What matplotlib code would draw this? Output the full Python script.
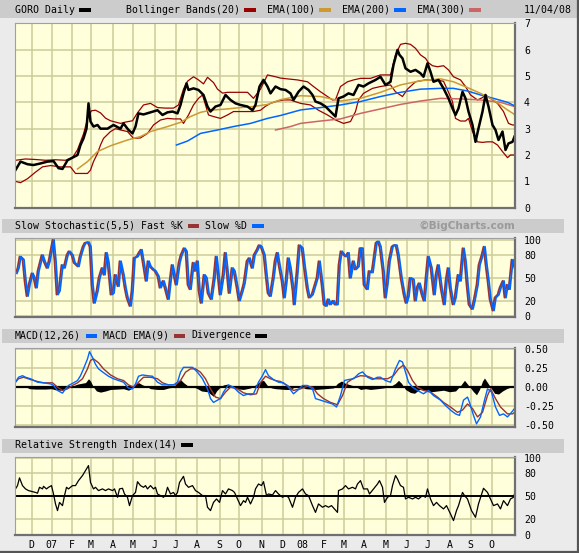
import matplotlib
matplotlib.use("Agg")
import matplotlib.pyplot as plt
from matplotlib.patches import Rectangle

# ---------------------------------------------------------------- data
# x values are trading-day index (0 = first bar on the chart, ~Nov 8 2006)
month_idx = [16, 36, 56, 75, 97, 117, 139, 160, 181, 204, 223, 246,
             267, 287, 308, 328, 348, 370, 391, 412, 434, 455, 476]
month_lbl = ["D", "07", "F", "M", "A", "M", "J", "J", "A", "S", "O", "N",
             "D", "08", "F", "M", "A", "M", "J", "J", "A", "S", "O"]

price_x = [0, 5, 12, 18, 25, 32, 38, 43, 47, 52, 57, 62, 65, 68, 71, 73, 75, 78, 82, 85,
           92, 98, 105, 108, 113, 117, 120, 123, 128, 135, 142, 147, 152, 157, 162, 165,
           168, 171, 173, 178, 183, 188, 192, 195, 200, 205, 210, 215, 220, 225, 232, 237,
           240, 244, 248, 252, 255, 260, 265, 270, 275, 278, 283, 288, 293, 297, 300, 305,
           310, 315, 320, 323, 328, 333, 338, 343, 348, 353, 360, 365, 370, 375, 378, 382,
           384, 387, 390, 395, 400, 405, 408, 412, 415, 418, 423, 428, 433, 437, 440, 443,
           447, 450, 453, 457, 460, 463, 467, 470, 473, 477, 480, 483, 487, 490, 493, 497, 499]
price_y = [1.43, 1.75, 1.65, 1.62, 1.68, 1.75, 1.77, 1.5, 1.47, 1.8, 1.9, 2.0, 2.38, 2.63, 3.0,
           3.96, 3.27, 3.08, 3.14, 3.0, 3.0, 3.14, 3.0, 3.2, 2.95, 2.82, 3.08, 3.58, 3.54, 3.62,
           3.7, 3.52, 3.62, 3.65, 3.58, 3.9, 4.34, 4.72, 4.47, 4.53, 4.47, 4.28, 3.84, 3.65,
           3.84, 3.9, 4.28, 4.09, 3.96, 3.9, 3.84, 3.7, 3.9, 4.6, 4.85, 4.6, 4.34, 4.6, 4.5,
           4.47, 4.34, 4.09, 4.4, 4.6, 4.47, 4.28, 4.03, 3.96, 3.84, 3.65, 3.46, 4.15, 4.22,
           4.34, 4.28, 4.66, 4.6, 4.72, 4.85, 4.97, 4.66, 4.78, 5.42, 5.99, 5.8, 5.67, 5.29,
           5.16, 5.23, 5.1, 4.97, 5.48, 5.16, 4.78, 4.85, 4.53, 4.15, 3.77, 3.52, 3.77, 4.4,
           4.15, 3.65, 3.14, 2.5, 3.01, 3.65, 4.28, 3.84, 3.14, 2.95, 2.57, 2.89, 2.19, 2.44,
           2.5, 2.7]

bb_up_x = [0, 10, 20, 30, 40, 50, 57, 62, 68, 73, 76, 80, 85, 90, 95, 105, 110, 117, 122, 128,
           135, 142, 150, 158, 163, 168, 172, 178, 183, 188, 192, 198, 202, 207, 212, 225, 232,
           238, 245, 252, 260, 265, 272, 282, 292, 298, 305, 312, 317, 320, 325, 332, 338, 345,
           355, 365, 375, 380, 385, 390, 395, 400, 405, 410, 413, 417, 422, 428, 433, 438, 445,
           450, 455, 462, 467, 470, 475, 482, 488, 493, 497, 499]
bb_up_y = [1.80, 1.85, 1.83, 1.80, 1.82, 1.80, 1.9, 2.2, 2.8, 3.5, 3.68, 3.7, 3.6, 3.4, 3.3,
           3.2, 3.25, 3.3, 3.6, 3.9, 3.96, 3.8, 3.78, 3.78, 3.9, 4.5, 4.8, 4.97, 4.85, 4.7, 4.95,
           4.75, 4.5, 4.35, 4.38, 4.38, 4.38, 4.15, 4.5, 5.04, 4.97, 4.92, 4.89, 4.85, 4.78, 4.6,
           4.4, 4.22, 4.09, 4.1, 4.6, 4.78, 4.85, 4.91, 4.91, 5.04, 5.04, 5.8, 6.2, 6.24, 6.2,
           6.05, 5.8, 5.67, 5.5, 5.39, 5.35, 5.39, 5.23, 4.97, 4.85, 4.6, 4.28, 4.09, 4.18, 4.28,
           4.15, 3.96, 3.65, 3.2, 3.14, 3.14]

bb_lo_x = [0, 5, 12, 20, 27, 35, 45, 55, 60, 72, 75, 78, 82, 85, 88, 95, 100, 105, 112, 118,
           125, 132, 138, 145, 152, 158, 165, 168, 173, 178, 183, 187, 190, 193, 198, 205, 212,
           218, 225, 232, 238, 245, 250, 255, 262, 268, 275, 285, 295, 303, 312, 320, 328, 335,
           340, 343, 348, 357, 365, 375, 380, 387, 392, 400, 410, 420, 428, 432, 437, 440, 445,
           450, 453, 457, 462, 467, 472, 477, 482, 487, 492, 495, 499]
bb_lo_y = [1.0, 0.95, 1.1, 1.35, 1.55, 1.6, 1.55, 1.55, 1.3, 1.3, 1.43, 1.75, 2.06, 2.38, 2.63,
           2.89, 3.0, 2.95, 2.89, 2.63, 2.65, 2.82, 3.14, 3.33, 3.39, 3.37, 3.37, 3.2, 3.52, 3.9,
           4.15, 4.28, 3.9, 3.52, 3.46, 3.39, 3.52, 3.65, 3.65, 3.65, 3.65, 3.7, 3.85, 3.96, 4.05,
           4.09, 4.09, 3.96, 3.9, 3.7, 3.52, 3.33, 3.2, 3.27, 3.65, 4.09, 4.34, 4.53, 4.6, 4.66,
           4.4, 4.22, 4.5, 4.78, 4.85, 4.85, 4.8, 4.47, 4.03, 3.39, 3.29, 3.29, 3.39, 2.89, 2.5,
           2.48, 2.5, 2.5, 2.38, 2.13, 1.9, 2.0, 2.0]

ema100_x = [62, 72, 82, 95, 112, 125, 135, 152, 165, 175, 185, 195, 212, 225, 238, 252, 265,
            285, 305, 325, 345, 365, 385, 405, 425, 438, 452, 465, 478, 492, 499]
ema100_y = [1.47, 1.75, 2.13, 2.35, 2.57, 2.7, 2.89, 3.08, 3.24, 3.46, 3.62, 3.7, 3.75, 3.8,
            3.84, 3.92, 4.1, 4.25, 4.22, 4.05, 4.15, 4.38, 4.66, 4.82, 4.89, 4.78, 4.56, 4.34,
            4.09, 3.71, 3.54]

ema200_x = [161, 172, 185, 202, 218, 235, 252, 265, 285, 305, 325, 345, 365, 385, 405, 425,
            438, 452, 465, 478, 492, 499]
ema200_y = [2.38, 2.53, 2.82, 2.95, 3.08, 3.2, 3.39, 3.5, 3.71, 3.8, 3.9, 4.03, 4.22, 4.38,
            4.5, 4.53, 4.53, 4.43, 4.28, 4.15, 4.0, 3.87]

ema300_x = [260, 275, 285, 305, 325, 345, 365, 385, 405, 425, 445, 465, 485, 499]
ema300_y = [2.95, 3.08, 3.2, 3.29, 3.37, 3.58, 3.75, 3.92, 4.05, 4.15, 4.13, 4.09, 4.0, 3.84]

stoch_x = [0, 2, 4, 7, 9, 11, 13, 16, 18, 20, 22, 26, 28, 31, 33, 36, 37, 39, 41, 43, 46, 48,
           51, 53, 56, 58, 62, 64, 67, 69, 72, 74, 76, 78, 81, 83, 86, 88, 90, 92, 95, 97, 99,
           102, 104, 107, 109, 111, 114, 116, 118, 121, 123, 125, 128, 130, 132, 134, 137, 139,
           142, 144, 147, 149, 152, 154, 156, 158, 160, 163, 165, 168, 170, 172, 174, 177, 179,
           181, 183, 185, 188, 190, 192, 195, 198, 200, 202, 204, 207, 209, 211, 213, 216, 218,
           221, 223, 226, 228, 231, 233, 236, 238, 241, 243, 245, 248, 250, 252, 254, 257, 259,
           261, 263, 266, 268, 270, 272, 274, 277, 278, 281, 283, 286, 288, 291, 293, 296, 298,
           301, 303, 306, 308, 310, 312, 314, 317, 319, 321, 323, 325, 328, 330, 332, 334, 337,
           339, 342, 344, 346, 348, 351, 353, 356, 358, 360, 362, 364, 367, 369, 371, 373, 376,
           378, 380, 382, 385, 388, 390, 392, 394, 397, 399, 401, 403, 406, 408, 410, 412, 415,
           418, 420, 422, 425, 428, 430, 432, 434, 437, 439, 442, 444, 447, 449, 451, 453, 456,
           458, 461, 463, 466, 468, 470, 472, 474, 477, 479, 482, 484, 487, 489, 491, 493, 496,
           498, 499]
stoch_k = [56, 63, 78, 74, 46, 26, 41, 56, 50, 37, 59, 80, 72, 63, 72, 93, 100, 72, 28, 33, 67,
           63, 80, 85, 80, 70, 65, 78, 91, 96, 97, 91, 41, 17, 33, 50, 63, 54, 83, 70, 28, 30, 54,
           39, 72, 54, 37, 24, 13, 33, 76, 78, 83, 87, 63, 46, 72, 65, 61, 59, 52, 37, 46, 37, 22,
           46, 67, 54, 41, 70, 80, 89, 85, 41, 35, 70, 59, 72, 33, 17, 54, 50, 30, 22, 50, 78, 54,
           28, 54, 83, 59, 30, 63, 59, 37, 20, 33, 43, 72, 76, 63, 80, 87, 93, 91, 80, 54, 30, 26,
           50, 72, 83, 67, 46, 24, 46, 76, 63, 33, 15, 59, 93, 89, 67, 37, 24, 28, 37, 50, 72, 41,
           15, 13, 22, 15, 20, 15, 15, 67, 85, 80, 78, 83, 50, 72, 61, 65, 89, 89, 41, 35, 59, 57,
           76, 96, 98, 91, 59, 24, 43, 72, 91, 93, 93, 80, 50, 28, 17, 26, 50, 48, 20, 37, 43, 28,
           20, 50, 78, 63, 28, 54, 67, 37, 15, 46, 63, 37, 15, 24, 54, 46, 89, 72, 41, 15, 9, 20,
           41, 67, 80, 91, 67, 46, 22, 7, 24, 28, 37, 46, 24, 41, 35, 74, 67, 63]
d_lag = 1.5  # Slow %D trails Fast %K by a day or two

macd_x = [0, 3, 7, 10, 15, 22, 28, 35, 38, 42, 47, 50, 53, 58, 62, 65, 68, 72, 74, 77, 80, 83,
          88, 93, 98, 103, 108, 113, 117, 120, 123, 127, 132, 137, 142, 147, 152, 158, 162, 165,
          168, 172, 177, 182, 187, 192, 195, 198, 202, 205, 208, 213, 218, 223, 228, 233, 238,
          243, 247, 250, 253, 258, 263, 268, 273, 278, 282, 287, 292, 297, 300, 305, 312, 317,
          321, 325, 329, 333, 338, 343, 347, 352, 357, 362, 365, 370, 375, 380, 384, 387, 390,
          393, 397, 402, 408, 413, 418, 425, 430, 435, 440, 444, 448, 452, 454, 458, 461, 465,
          469, 472, 476, 480, 484, 488, 492, 496, 499]
macd_y = [.065, .13, .15, .13, .11, .065, .057, .043, .022, -.043, -.078, -.022, .022, .057,
          .087, .15, .24, .37, .465, .39, .30, .24, .19, .143, .11, .087, .065, -.013, -.022,
          .043, .143, .16, .15, .143, .065, .03, .03, .03, .065, .196, .26, .26, .26, .196, .11,
          -.022, -.15, -.2, -.17, -.15, -.065, .03, .0, -.065, -.11, -.087, -.087, .065, .15,
          .23, .15, .1, .065, .057, 0, -.087, -.043, .022, .022, -.022, -.15, -.17, -.2, -.22,
          -.26, -.11, .087, .1, .11, .174, .2, .13, .1, .13, .13, .087, .065, .24, .35, .33,
          .196, .065, 0, -.043, -.087, -.043, -.11, -.17, -.24, -.3, -.35, -.37, -.17, -.13,
          -.2, -.37, -.48, -.39, -.17, -.022, -.065, -.26, -.37, -.35, -.39, -.33, -.28]

sig_x = [0, 3, 8, 15, 22, 28, 37, 42, 47, 52, 57, 62, 67, 72, 75, 78, 83, 88, 95, 102, 108,
         113, 118, 123, 128, 135, 142, 147, 153, 160, 165, 170, 175, 180, 185, 190, 195, 200,
         205, 210, 215, 222, 228, 235, 241, 245, 250, 255, 260, 265, 272, 278, 285, 292, 297,
         302, 308, 315, 322, 327, 332, 338, 345, 352, 358, 365, 372, 378, 383, 388, 392, 397,
         402, 408, 415, 422, 428, 435, 442, 447, 452, 457, 462, 467, 472, 475, 480, 485, 492,
         497, 499]
sig_y = [.065, .11, .13, .1, .074, .057, .057, 0, -.043, -.022, .022, .057, .11, .24, .35, .37,
         .32, .24, .16, .11, .087, .03, 0, .065, .13, .13, .11, .057, .03, .03, .087, .196, .24,
         .24, .196, .11, -.022, -.13, -.15, -.065, 0, -.022, -.074, -.1, -.087, .06, .143, .11,
         .087, .074, .022, -.043, -.022, .013, 0, -.087, -.15, -.2, -.23, -.11, .065, .117,
         .15, .143, .11, .11, .11, .15, .24, .29, .22, .087, 0, -.043, -.065, -.13, -.2, -.26,
         -.33, -.3, -.22, -.28, -.39, -.33, -.11, -.022, -.15, -.26, -.35, -.35, -.33]

div_x = [0, 3, 8, 11, 14, 20, 30, 36, 40, 45, 50, 54, 58, 62, 66, 70, 73, 75, 78, 81, 85, 90,
         95, 102, 108, 113, 117, 120, 123, 127, 131, 135, 142, 148, 153, 158, 162, 165, 168,
         172, 177, 182, 186, 192, 198, 201, 204, 208, 212, 215, 220, 228, 235, 240, 245, 248,
         252, 256, 260, 270, 275, 280, 285, 290, 300, 310, 318, 322, 326, 330, 335, 340, 345,
         350, 355, 362, 368, 375, 380, 383, 386, 390, 395, 399, 404, 410, 416, 422, 428, 434,
         440, 445, 449, 452, 455, 458, 461, 464, 467, 469, 472, 475, 479, 483, 487, 491, 495, 499]
div_y = [.01, .02, .02, 0, -.02, -.025, -.025, -.02, -.035, -.04, -.02, .01, .02, .04, .05,
         .06, .11, .08, 0, -.05, -.065, -.05, -.03, -.025, -.02, -.04, -.01, .04, .06, .03, .01,
         -.02, -.03, -.03, -.01, 0, .07, .1, .06, .02, .01, -.02, -.05, -.06, -.12, -.05, -.01,
         .03, .04, .01, -.02, -.03, -.01, .03, .08, .09, .02, -.01, -.02, -.03, -.03, .01, .01,
         -.02, -.03, -.02, -.01, .05, .08, .05, .03, .01, -.03, -.02, -.03, -.02, -.01, .01,
         .05, .09, .05, -.03, -.07, -.08, -.03, -.04, -.06, -.05, -.04, -.06, -.05, .02, .09,
         .04, -.01, -.06, -.1, -.03, .08, .12, .06, 0, -.08, -.09, -.05, -.02, 0, .03]

rsi_x = [0, 2, 4, 7, 10, 13, 17, 20, 22, 24, 27, 28, 31, 33, 36, 38, 40, 42, 44, 47, 49, 51,
         53, 57, 60, 63, 67, 70, 73, 75, 78, 80, 83, 87, 90, 93, 97, 99, 102, 104, 107, 109,
         112, 114, 117, 120, 122, 125, 128, 130, 132, 135, 138, 140, 142, 145, 148, 150, 152,
         155, 158, 160, 162, 164, 168, 170, 173, 177, 180, 183, 187, 190, 192, 195, 198, 201,
         204, 207, 210, 213, 217, 219, 222, 225, 228, 230, 232, 235, 238, 240, 243, 246, 248,
         251, 253, 257, 260, 263, 267, 270, 273, 277, 280, 283, 287, 290, 293, 297, 300, 303,
         307, 310, 313, 316, 319, 322, 323, 327, 330, 333, 337, 340, 342, 345, 348, 352, 354,
         358, 362, 364, 367, 369, 372, 375, 377, 380, 382, 385, 388, 390, 393, 397, 400, 403,
         407, 410, 412, 415, 418, 421, 424, 428, 431, 435, 438, 441, 443, 447, 449, 452, 456,
         460, 463, 468, 472, 475, 478, 482, 485, 488, 492, 495, 498, 499]
rsi_y = [59.6, 63.9, 74, 63.9, 59.6, 57.4, 56, 55, 54, 61.7, 59.6, 63, 59.6, 61.7, 63.9, 53,
         40, 31.3, 42, 37.8, 50.9, 61.7, 59.6, 63.9, 63.9, 70.4, 77, 83.5, 90, 68, 59.6, 61.7,
         57.4, 59.6, 57.4, 59.6, 57.4, 59.6, 48.7, 59.6, 60.4, 53, 48.7, 37.8, 50.9, 55, 69,
         63.9, 61.7, 63.9, 59.6, 63.9, 59.6, 61.7, 53, 50.9, 48.7, 51.7, 61.7, 53, 55, 50.9, 55,
         68, 76, 66, 61.7, 63.9, 57.4, 55, 50.9, 50.9, 35.7, 31.3, 42, 46.5, 42, 57.4, 53, 59.6,
         57.4, 55, 46.5, 37.8, 44.3, 42, 48.7, 40, 48.7, 59.6, 66, 64, 69, 50.9, 53, 51.7, 57.4,
         53, 48.7, 50.9, 48.7, 35.7, 48.7, 55, 59.6, 53, 50.9, 37.8, 29, 40, 35.7, 37.8, 35.7,
         37.8, 33.5, 29, 57.4, 59.6, 63.9, 59.6, 61.7, 59.6, 66, 70.4, 59.6, 59.6, 53, 59.6, 66,
         70.4, 61.7, 42, 48.7, 50.9, 63.9, 77, 72.6, 63.9, 61.7, 46.5, 48.7, 46.5, 48.7, 46.5,
         50.9, 48.7, 59.6, 46.5, 37.8, 42, 37.8, 33.5, 37.8, 27, 18.3, 31.3, 37.8, 55, 50.9,
         46.5, 31.3, 22.6, 40, 60.4, 55, 46.5, 37.8, 40, 33.5, 44.3, 37.8, 46.5, 48.7, 53]

# ---------------------------------------------------------------- style
W, H = 579, 553
MONO = "DejaVu Sans Mono"
FS = 7.1
BG = "#EBEBEB"
BAR = "#CCCCCC"
FACE = "#FFFFDC"
GRID = "#CDCD9C"
DKRED = "#990000"
ORANGE = "#CC9933"
BLUE = "#0066FF"
PINK = "#CC6666"
BROWN = "#993333"

fig = plt.figure(figsize=(W / 100, H / 100), dpi=100, facecolor=BG)

# background layer in pixel coordinates
bg = fig.add_axes([0, 0, 1, 1])
bg.set_xlim(0, W)
bg.set_ylim(H, 0)
bg.axis("off")
bg.add_patch(Rectangle((0, 0), W - 2, 17.5, color=BAR, lw=0))
for y0 in (218.5, 328.5, 438.5):
    bg.add_patch(Rectangle((2, y0), 562, 14.3, color=BAR, lw=0))
bg.plot([W - 1.2, W - 1.2], [0, H], color="#555555", lw=1.6)
bg.plot([0, W], [H - 1.2, H - 1.2], color="#555555", lw=1.6)


def label(x, y, s, **kw):
    bg.text(x, y, s, fontsize=FS, family=MONO, va="center", ha="left", **kw)


def swatch(x0, x1, y, color):
    bg.add_patch(Rectangle((x0, y - 2), x1 - x0, 4.2, color=color, lw=0))


# header
label(15, 10, "GORO Daily")
swatch(79, 91, 10, "black")
label(125.5, 10, "Bollinger Bands(20)")
swatch(244, 256, 10, DKRED)
label(267, 10, "EMA(100)")
swatch(319, 331, 10, ORANGE)
label(341.6, 10, "EMA(200)")
swatch(394, 406, 10, BLUE)
label(416.5, 10, "EMA(300)")
swatch(469, 481, 10, PINK)
label(524, 10, "11/04/08")

# sub panel headers
label(14.8, 225.7, "Slow Stochastic(5,5) Fast %K")
swatch(187.6, 199.4, 225.7, BROWN)
label(205, 225.7, "Slow %D")
swatch(252, 263.5, 225.7, BLUE)
bg.text(515, 225.7, "\u00a9BigCharts.com", fontsize=7.6, family="DejaVu Sans",
        fontweight="bold", color="#9A9A9A", va="center", ha="right")

label(14.8, 335.5, "MACD(12,26)")
swatch(85.7, 96.7, 335.5, BLUE)
label(102.7, 335.5, "MACD EMA(9)")
swatch(174, 185, 335.5, BROWN)
label(191, 335.5, "Divergence")
swatch(255, 266.6, 335.5, "black")

label(14.8, 445, "Relative Strength Index(14)")
swatch(181, 193, 445, "black")


def panel(top, bottom, ylim, yticks, yticklabels, show_months=False):
    ax = fig.add_axes([15 / W, 1 - bottom / H, 500 / W, (bottom - top) / H])
    ax.set_facecolor(FACE)
    ax.set_xlim(-0.5, 499.5)
    ax.set_ylim(*ylim)
    ax.set_xticks(month_idx)
    ax.set_xticklabels(month_lbl if show_months else [])
    ax.set_yticks(yticks)
    ax.set_yticklabels(yticklabels)
    ax.yaxis.tick_right()
    ax.tick_params(axis="both", length=0, labelsize=FS)
    ax.tick_params(axis="y", pad=6.5)
    ax.tick_params(axis="x", pad=3.5)
    for t in ax.get_xticklabels():
        t.set_family(MONO)
    for t in ax.get_yticklabels():
        t.set_family(MONO)
        t.set_horizontalalignment("left")
    ax.grid(True, color=GRID, lw=1.15)
    ax.set_axisbelow(True)
    for s in ("left", "top"):
        ax.spines[s].set_color("#A0A0A0")
        ax.spines[s].set_linewidth(0.8)
    for s in ("right", "bottom"):
        ax.spines[s].set_color("#707070")
        ax.spines[s].set_linewidth(1.6)
    return ax


# price panel
ax1 = panel(22.5, 207.7, (0, 7.03), [0, 1, 2, 3, 4, 5, 6, 7],
            ["0", "1", "2", "3", "4", "5", "6", "7"])
ax1.plot(bb_up_x, bb_up_y, color=DKRED, lw=0.9)
ax1.plot(bb_lo_x, bb_lo_y, color=DKRED, lw=0.9)
ax1.plot(ema300_x, ema300_y, color=PINK, lw=1.1)
ax1.plot(ema200_x, ema200_y, color=BLUE, lw=1.1)
ax1.plot(ema100_x, ema100_y, color=ORANGE, lw=1.1)
ax1.plot(price_x, price_y, color="black", lw=1.8)

# slow stochastic panel
ax2 = panel(238.3, 317.3, (-1.8, 102), [0, 20, 50, 80, 100],
            ["0", "20", "50", "80", "100"])
ax2.plot(stoch_x, stoch_k, color=BROWN, lw=1.3)
ax2.plot([x + d_lag for x in stoch_x], stoch_k, color=BLUE, lw=1.3)

# MACD panel
ax3 = panel(347.7, 426.7, (-0.518, 0.517), [-0.5, -0.25, 0, 0.25, 0.5],
            ["-0.50", "-0.25", "0.00", "0.25", "0.50"])
ax3.fill_between(div_x, 0, div_y, color="black", lw=0)
ax3.axhline(0, color="black", lw=1.6)
ax3.plot(sig_x, sig_y, color=BROWN, lw=1.0)
ax3.plot(macd_x, macd_y, color=BLUE, lw=1.0)

# RSI panel
ax4 = panel(456.7, 535.3, (-0.9, 101.6), [0, 20, 50, 80, 100],
            ["0", "20", "50", "80", "100"], show_months=True)
ax4.axhline(50, color="black", lw=1.4)
ax4.plot(rsi_x, rsi_y, color="black", lw=0.9)

fig.savefig("out.png", dpi=100, facecolor=BG)
